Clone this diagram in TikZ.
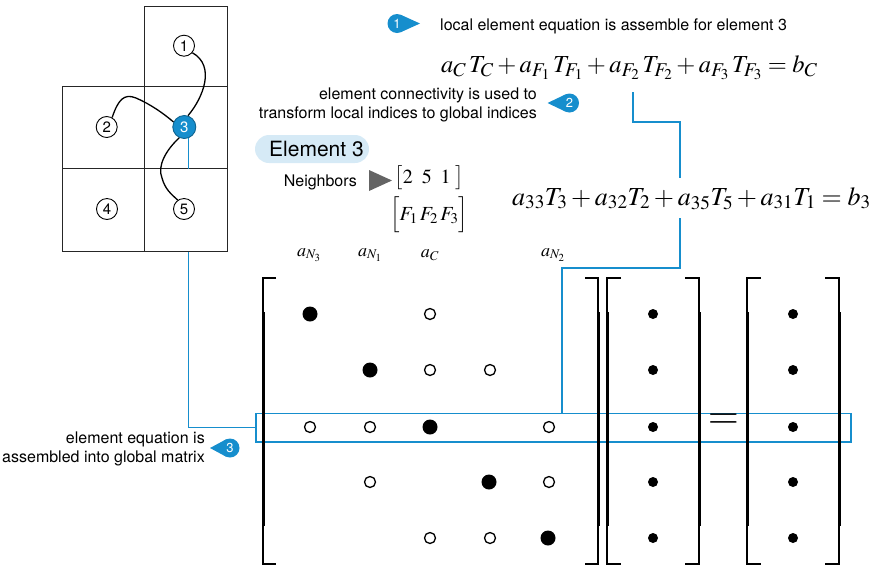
\documentclass[tikz,border=0pt]{standalone}
\usepackage{mathptmx}
\usepackage[no-math]{fontspec}
\setmainfont{TeX Gyre Heros}
\usetikzlibrary{calc}
\DeclareMathSizes{24.5}{24.5}{19.5}{15}
\definecolor{accent}{RGB}{22,142,205}
\definecolor{pillblue}{RGB}{214,234,246}
\definecolor{trigray}{RGB}{100,100,100}
\newcommand\DrawBracket[4]{%
  \draw[line width=1.6pt] (#2,#3) -- (#1,#3) -- (#1,#4) -- (#2,#4);
  \draw[line width=3pt] (#1,#3+34) -- (#1,#4-38);
}
\begin{document}
\begin{tikzpicture}[x=1pt,y=-1pt,
  cellbox/.style={draw=black!85,line width=0.9pt,inner sep=0,minimum width=83.4pt,minimum height=82.5pt},
  elem/.style={circle,draw=black,line width=0.9pt,fill=white,minimum size=21pt,inner sep=0,font=\fontsize{15}{15}\selectfont},
  wire/.style={line width=1.3pt},
  blueline/.style={draw=accent,line width=1.4pt},
  pointer/.style={circle,fill=accent,text=white,minimum size=19pt,inner sep=0,font=\fontsize{13}{13}\selectfont},
  note/.style={font=\fontsize{16}{19}\selectfont,inner sep=0},
  bigdot/.style={circle,fill=black,minimum size=15pt,inner sep=0},
  opendot/.style={circle,draw=black,line width=1.3pt,fill=white,minimum size=11pt,inner sep=0},
  vecdot/.style={circle,fill=black,minimum size=10pt,inner sep=0},
  eqn/.style={font=\fontsize{26}{30}\selectfont,inner sep=0},
  collab/.style={font=\fontsize{18}{20}\selectfont,inner sep=0}]
\useasboundingbox (0,0) rectangle (870,566);

% mesh cells
\node[cellbox,minimum height=79.3pt] (c1) at (186,46.35) {};
\node[cellbox,minimum width=82.3pt] (c2) at (103.15,127.35) {};
\node[cellbox] (c3) at (186,127.35) {};
\node[cellbox,minimum width=82.3pt] (c4) at (103.15,209.85) {};
\node[cellbox] (c5) at (186,209.85) {};

% element nodes
\node[elem] (n1) at (184,45.7) {1};
\node[elem] (n2) at (106.7,127) {2};
\node[elem,fill=accent,draw=accent!70!black,text=white,minimum size=23pt] (n3) at (184.3,127) {3};
\node[elem] (n4) at (107,209) {4};
\node[elem] (n5) at (184,209) {5};

% connectivity curves
\draw[wire] (n1.-40) .. controls (216,66) and (203,98) .. (n3.72);
\draw[wire] (n2.60) .. controls (118,100) and (124,93) .. (136,98) .. controls (150,104) and (163,113) .. (n3.155);
\draw[wire] (n3.-115) .. controls (166,150) and (157,166) .. (162,178) .. controls (165,189) and (171,194) .. (n5.125);

% highlight row
\node[draw=accent,line width=1.5pt,minimum width=595pt,minimum height=28.5pt,inner sep=0] (hl) at (553.5,427.5) {};

% blue link from element 3 to global row
\draw[blueline] (n3.-70) -- (n3.-70 |- c3.south);
\draw[blueline] (n3.-70 |- c5.south) |- (hl.west);

% pointer 1 and local equation
\coordinate (p1c) at (397,23.5);
\fill[accent] ($(p1c)+(64:9.5)$) -- ($(p1c)+(23,0)$) -- ($(p1c)+(-64:9.5)$) -- cycle;
\node[pointer] (p1) at (p1c) {1};
\node[note,anchor=base west] (t1) at (440,30) {local element equation is assemble for element 3};
\node[font=\fontsize{24.5}{28}\selectfont,inner sep=0,anchor=base west] (eq1) at (441,72) {$a_C\, T_C + a_{F_1}\, T_{F_1} + a_{F_2}\, T_{F_2} + a_{F_3}\, T_{F_3} = b_C$};

% pointer 2
\coordinate (p2c) at (569.5,103);
\fill[accent] ($(p2c)+(116:9.5)$) -- ($(p2c)+(-22,0)$) -- ($(p2c)+(-116:9.5)$) -- cycle;
\node[pointer] (p2) at (p2c) {2};
\node[note,anchor=base east,align=right] (t2) at (537,118) {element connectivity is used to\\transform local indices to global indices};

% Element 3 pill and neighbors
\node[fill=pillblue,rounded corners=14pt,minimum width=114pt,minimum height=28pt,inner sep=0] (pill) at (312,149) {};
\node[font=\fontsize{21}{21}\selectfont,inner sep=0,anchor=base] (el3) at (316.5,156) {Element 3};
\node[note,anchor=base east] (nb) at (357,186) {Neighbors};
\fill[trigray] (369,170) -- (392,180.5) -- (369,191) -- cycle;
\node[font=\fontsize{20}{22}\selectfont,inner sep=0] (nbl) at (429,178) {$\bigl[2\;\;5\;\;1\;\bigr]$};
\node[font=\fontsize{20}{22}\selectfont,inner sep=0] (nbf) at (429,215) {$\Bigl[F_1\,F_2\,F_3\Bigr]$};

% global equation
\coordinate (f2) at (633,92);
\coordinate (j1) at (680,178);
\coordinate (j2) at (680,218);
\coordinate (j3) at (562,268);
\draw[blueline] (f2) |- (680,122) -- (j1);
\draw[blueline] (j2) |- (j3) -- (hl.north -| j3);
\node[eqn,anchor=base west] (eq2) at (512,205) {$a_{33}T_3 + a_{32}T_2 + a_{35}T_5 + a_{31}T_1 = b_3$};

% column labels
\node[collab] (cl1) at (309,255) {$a_{N_3}$};
\node[collab] (cl2) at (370,255) {$a_{N_1}$};
\node[collab] (cl3) at (430,255) {$a_C$};
\node[collab] (cl4) at (553,255) {$a_{N_2}$};

% matrix brackets
\DrawBracket{263}{276}{278}{564}
\DrawBracket{598}{585}{278}{564}
\DrawBracket{607}{621}{278}{564}
\DrawBracket{699}{685}{278}{564}
\DrawBracket{747}{761}{278}{564}
\DrawBracket{839}{825}{278}{564}

% matrix entries
\node[bigdot] (m11) at (310,314) {};
\node[opendot] (m13) at (430,314) {};
\node[bigdot] (m22) at (370,370) {};
\node[opendot] (m23) at (430,370) {};
\node[opendot] (m24) at (490,370) {};
\node[opendot] (m31) at (310,427) {};
\node[opendot] (m32) at (370,427) {};
\node[bigdot] (m33) at (430,427) {};
\node[opendot] (m35) at (549,427) {};
\node[opendot] (m42) at (370,482) {};
\node[bigdot] (m44) at (489,482) {};
\node[opendot] (m45) at (549,482) {};
\node[opendot] (m53) at (430,538) {};
\node[opendot] (m54) at (490,538) {};
\node[bigdot] (m55) at (548,538) {};

% vectors
\foreach \yy [count=\i] in {314,370,427,482,538} {
  \node[vecdot] (x\i) at (653,\yy) {};
  \node[vecdot] (b\i) at (793,\yy) {};
}
\node[font=\fontsize{40}{40}\selectfont,inner sep=0] (eqs) at (723.5,421.5) {$=$};

% pointer 3
\coordinate (p3c) at (230,448);
\fill[accent] ($(p3c)+(116:9.5)$) -- ($(p3c)+(-20,0)$) -- ($(p3c)+(-116:9.5)$) -- cycle;
\node[pointer] (p3) at (p3c) {3};
\node[note,anchor=base east,align=right] (t3) at (205,462) {element equation is\\assembled into global matrix};
\end{tikzpicture}
\end{document}
